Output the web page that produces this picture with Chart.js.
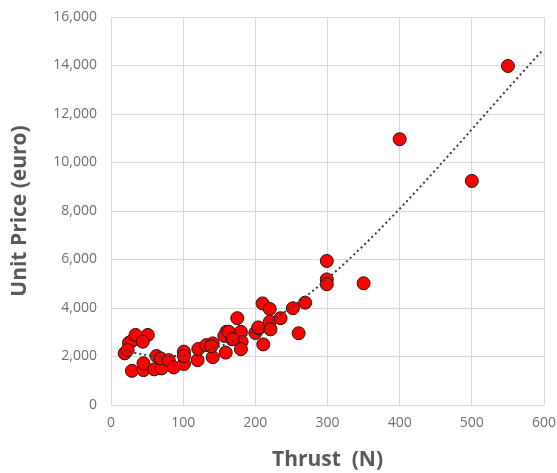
<!DOCTYPE html>
<html>
<head>
<meta charset="utf-8">
<script src="https://cdn.jsdelivr.net/npm/chart.js@4/dist/chart.umd.min.js"></script>
<style>
  html, body { margin: 0; padding: 0; background: #fff; }
  #wrap { width: 557px; height: 473px; }
</style>
</head>
<body>
<div id="wrap"><canvas id="thrustChart" width="557" height="473"></canvas></div>
<script>
// thrust (N) of each product
const thrust = [19, 25, 29, 34, 51, 44, 23, 29, 45, 45, 60, 70, 63, 69, 80, 87,
    101, 101, 101, 120, 121, 132, 141, 141, 159, 160, 157, 168, 175, 180, 181, 180,
    200, 205, 210, 220, 163, 169, 139, 204, 220, 221, 235, 252, 269, 260, 211,
    299, 299, 299, 350, 400, 500, 550];
// unit price (euro)
const unitPrice = [2130, 2570, 2640, 2890, 2890, 2610, 2270, 1410, 1440, 1720, 1470, 1510, 2020, 1920, 1850, 1550,
    1690, 2200, 2020, 1850, 2310, 2470, 2540, 1970, 2160, 3020, 2850, 2710, 3580, 3020, 2610, 2300,
    2970, 3160, 4190, 3960, 3020, 2720, 2420, 3200, 3430, 3120, 3580, 3990, 4220, 2960, 2500,
    5940, 5180, 4980, 5020, 10960, 9240, 13980];

const xTicks = [0, 100, 200, 300, 400, 500, 600];
const yTicks = [0, 2000, 4000, 6000, 8000, 10000, 12000, 14000, 16000];

const tickColor = '#6f6f6f';
const titleColor = '#595959';
const gridColor = '#d9d9d9';

// least-squares polynomial trendline (like Excel's), forecast to the axis max
const fitPoly = (xs, ys, order) => {
    const n = order + 1;
    const sx = xs.map(v => v / 100); // scaled to keep the normal equations tidy
    const m = [];
    for (let r = 0; r < n; r++) {
        m.push(new Array(n + 1).fill(0));
        for (let i = 0; i < sx.length; i++) {
            for (let c = 0; c < n; c++) m[r][c] += Math.pow(sx[i], r + c);
            m[r][n] += Math.pow(sx[i], r) * ys[i];
        }
    }
    for (let c = 0; c < n; c++) {
        for (let r = c + 1; r < n; r++) {
            const f = m[r][c] / m[c][c];
            for (let k = c; k <= n; k++) m[r][k] -= f * m[c][k];
        }
    }
    const b = new Array(n).fill(0);
    for (let r = n - 1; r >= 0; r--) {
        let v = m[r][n];
        for (let k = r + 1; k < n; k++) v -= m[r][k] * b[k];
        b[r] = v / m[r][r];
    }
    return (x) => b.reduce((acc, bk, k) => acc + bk * Math.pow(x / 100, k), 0);
};

const trendFn = fitPoly(thrust, unitPrice, 3);
const trend = [];
for (let x = Math.min(...thrust); x <= 600; x += 4) {
    trend.push({x: x, y: trendFn(x)});
}

const points = thrust.map((x, i) => ({x: x, y: unitPrice[i]}));

new Chart('thrustChart', {
    type: 'scatter',
    data: {
        datasets: [
            {
                label: 'Trend',
                data: trend,
                showLine: true,
                borderColor: '#3a3a3a',
                borderWidth: 2,
                borderDash: [2, 3],
                pointRadius: 0,
                fill: false,
                order: 0
            },
            {
                label: 'Products',
                data: points,
                backgroundColor: '#ff0000',
                borderColor: '#2a1010',
                borderWidth: 1,
                pointRadius: 6.5,
                order: 1
            }
        ]
    },
    options: {
        responsive: false,
        animation: false,
        layout: {
            padding: {top: 17, right: 13, bottom: 0, left: 0}
        },
        plugins: {
            legend: {display: false},
            tooltip: {enabled: false}
        },
        scales: {
            x: {
                type: 'linear',
                min: 0,
                max: 600,
                afterBuildTicks: (axis) => { axis.ticks = xTicks.map(v => ({value: v})); },
                afterFit: (axis) => {
                    axis.height = 68;
                    axis.paddingLeft = 0;
                    axis.paddingRight = 0;
                },
                border: {display: false},
                grid: {color: gridColor, drawTicks: false},
                ticks: {
                    color: tickColor,
                    padding: 10,
                    font: {family: 'Open Sans', size: 14}
                },
                title: {
                    display: true,
                    text: 'Thrust  (N)',
                    color: titleColor,
                    padding: {top: 0, bottom: 0},
                    font: {family: 'Open Sans', size: 21, weight: 'bold'}
                }
            },
            y: {
                min: 0,
                max: 16000,
                afterBuildTicks: (axis) => { axis.ticks = yTicks.map(v => ({value: v})); },
                afterFit: (axis) => {
                    axis.width = 111;
                    axis.paddingTop = 0;
                    axis.paddingBottom = 0;
                },
                border: {display: false},
                grid: {color: gridColor, drawTicks: false},
                ticks: {
                    color: tickColor,
                    padding: 14,
                    font: {family: 'Open Sans', size: 14},
                    callback: (v) => v.toLocaleString('en-US')
                },
                title: {
                    display: true,
                    text: 'Unit Price (euro)',
                    color: titleColor,
                    padding: {top: 7, bottom: 0},
                    font: {family: 'Open Sans', size: 21, weight: 'bold'}
                }
            }
        }
    }
});
</script>
</body>
</html>
